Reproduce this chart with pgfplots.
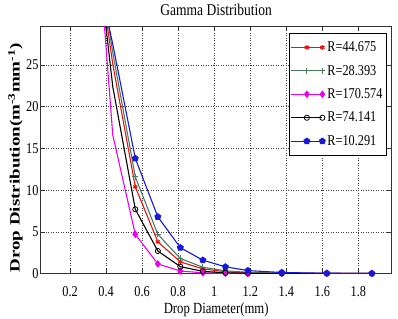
\documentclass[border=0pt]{standalone}
\usepackage{fontspec}
\setmainfont{Liberation Serif}[FakeStretch=0.82]
\newfontfamily\ylabfont{Liberation Serif}
\usepackage{pgfplots}
\pgfplotsset{compat=1.18}

\definecolor{cRed}{RGB}{228,20,20}
\definecolor{cGreen}{RGB}{72,125,96}
\definecolor{cMag}{RGB}{238,0,238}
\definecolor{cBlue}{RGB}{25,25,215}

% drop diameter class centres (mm) and N(D) for each rain rate
\pgfplotstableread{
D      r44    r28    r170   r74    r10
0.312  44     44     52     46     40
0.437  25.1   26.5   16.6   22.4   27.5
0.562  10.4   11.6   4.7    7.7    13.8
0.687  3.8    4.7    1.15   2.7    6.8
0.812  1.4    1.8    0.3    0.82   3.1
0.937  0.55   0.75   0.08   0.26   1.6
1.062  0.22   0.32   0.02   0.08   0.8
1.187  0.09   0.14   0.005  0.025  0.35
1.375  0.025  0.04   0.001  0.004  0.12
1.625  0.004  0.008  0      0.001  0.03
1.875  0.001  0.002  0      0      0.01
}\gammadsd

\begin{document}
\begin{tikzpicture}
\begin{axis}[
  scale only axis,
  width=351pt, height=246.8pt,
  xmin=0.037, xmax=1.985, ymin=0, ymax=29.6,
  xtick={0.2,0.4,0.6,0.8,1,1.2,1.4,1.6,1.8},
  ytick={0,5,10,15,20,25},
  tick pos=both, tick align=inside,
  major tick length=4.5pt,
  axis line style={black!80, line width=0.8pt},
  every tick/.style={black!80, line width=0.6pt},
  grid=major,
  major grid style={black!75, line width=0.5pt, dotted},
  /pgf/number format/assume math mode=true,
  ticklabel style={font=\fontsize{15}{16}\selectfont},
  xticklabel style={anchor=base, yshift=-23pt},
  yticklabel style={inner xsep=2pt},
  title={Gamma Distribution},
  title style={font=\fontsize{16.5}{17}\selectfont, at={(0.5,1)}, anchor=base, yshift=5pt},
  xlabel={Drop Diameter(mm)},
  xlabel style={font=\fontsize{15.5}{16}\selectfont, at={(0.5,0)}, anchor=base, yshift=-39.5pt},
  ylabel={\ylabfont\bfseries Drop Distribution(m\textsuperscript{-3}mm\textsuperscript{-1})},
  ylabel style={font=\fontsize{19}{20}\selectfont, at={(-0.0718,0.468)}, anchor=center, yscale=0.75},
  legend style={at={(0.986,0.973)}, anchor=north east, draw=black, line width=0.6pt,
    fill=white, inner xsep=2pt, inner ysep=6pt, row sep=8pt,
    font=\fontsize{15}{16}\selectfont},
  legend cell align=left,
  legend image code/.code={\draw[mark repeat=2,mark phase=2,#1] plot coordinates {(0pt,0pt) (15.5pt,0pt) (31pt,0pt)};},
  every axis plot/.append style={line width=1.1pt, mark indices={2,3,4,5,6,7,8,9,10,11}},
]
\addplot[cRed, mark=asterisk, mark size=2.5pt] table[x=D, y=r44] {\gammadsd};
\addplot[cGreen, mark=+, mark size=3pt] table[x=D, y=r28] {\gammadsd};
\addplot[cMag, mark=diamond*, mark size=3pt] table[x=D, y=r170] {\gammadsd};
\addplot[black, mark=o, mark size=2.6pt, mark options={line width=0.8pt}] table[x=D, y=r74] {\gammadsd};
\addplot[cBlue, mark=pentagon*, mark size=3pt] table[x=D, y=r10] {\gammadsd};
\legend{R=44.675, R=28.393, R=170.574, R=74.141, R=10.291}
\end{axis}
\pgfresetboundingbox
\path[use as bounding box] ([xshift=-40.7pt,yshift=-44.5pt]current axis.south west) rectangle ([xshift=6.3pt,yshift=26.7pt]current axis.north east);
\end{tikzpicture}
\end{document}
